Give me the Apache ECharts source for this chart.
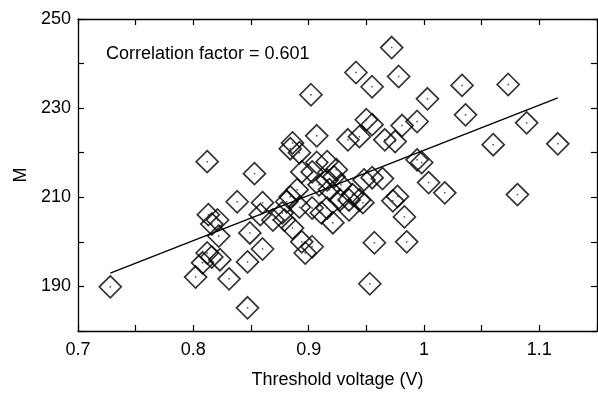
<!DOCTYPE html>
<html>
<head>
<meta charset="utf-8">
<script src="https://cdn.jsdelivr.net/npm/echarts@6/dist/echarts.min.js"></script>
<style>
html,body{margin:0;padding:0;background:#fff;}
#c{width:598px;height:394px;}
</style>
</head>
<body>
<div id="c"></div>
<script>
// Threshold voltage (V)
var voltage = [
0.972,0.941,0.978,0.955,0.902,1.003,1.033,1.073,1.036,1.089,
0.994,0.981,0.950,0.955,0.975,0.966,0.934,0.944,0.907,0.886,
0.892,0.884,0.916,0.907,0.903,0.894,0.924,0.916,0.922,0.918,
0.890,0.884,0.938,0.948,0.955,0.935,0.944,0.977,0.973,0.964,
1.004,1.018,1.081,0.983,0.985,0.957,0.953,1.060,1.116,0.994,
0.998,0.853,0.860,0.838,0.812,0.813,0.821,0.816,0.822,0.849,
0.860,0.812,0.816,0.823,0.808,0.847,0.802,0.831,0.847,0.728,
0.897,0.903,0.894,0.886,0.879,0.911,0.916,0.903,0.892,0.881,
0.927,0.921,0.935,0.947,0.858,0.869,0.877,0.909,0.928
];
// M
var mValues = [
243.6,238.0,237.1,234.8,233.0,232.1,235.1,235.3,228.5,226.7,
227.0,226.1,227.4,226.3,222.5,222.9,222.9,223.6,223.8,222.2,
220.0,220.9,218.0,217.8,215.7,215.7,216.2,213.9,214.6,211.7,
211.7,210.1,210.6,213.9,214.4,209.4,209.4,210.2,209.2,214.2,
213.3,211.0,210.6,205.6,200.0,199.8,190.6,221.8,222.0,218.4,
217.8,215.3,208.8,209.0,218.0,206.1,204.9,204.0,201.3,202.0,
198.4,197.5,196.6,196.0,195.3,195.5,192.1,191.7,185.2,189.9,
197.5,198.9,200.0,203.1,204.9,206.5,207.6,207.6,207.8,209.0,
209.4,204.3,207.2,208.8,206.1,204.9,206.5,212.8,212.8
];
// regression line end points
var fitX = [0.728, 1.116];
var fitY = [193.0, 232.3];
// axis ticks
var xMin = 0.7, xMax = 1.15, xStep = 0.05;
var yMin = 180, yMax = 250, yStep = 10;
var corrText = 'Correlation factor = 0.601';

var pts = voltage.map(function(v, i){ return [v, mValues[i]]; });
var fitPts = fitX.map(function(v, i){ return [v, fitY[i]]; });

var FONT = '"Liberation Sans", Arial, Helvetica, sans-serif';
var INK = '#000';

function xLab(v){
  var t = Math.round(v * 100) / 100;
  if (Math.abs(t * 10 - Math.round(t * 10)) > 1e-6) return '';
  return String(parseFloat(t.toFixed(1)));
}
function yLab(v){
  return ((Math.round(v) - 190) % 20 === 0) ? String(Math.round(v)) : '';
}

var axisCommon = {
  axisLine: {show: true, onZero: false, lineStyle: {color: INK, width: 1.3}},
  axisTick: {show: true, inside: true, length: 6, lineStyle: {color: INK, width: 1.2}},
  splitLine: {show: false}
};

var chart = echarts.init(document.getElementById('c'), null, {renderer: 'canvas'});
chart.setOption({
  animation: false,
  backgroundColor: '#fff',
  grid: {left: 78, right: 1, top: 19, bottom: 63, containLabel: false, outerBoundsMode: 'none'},
  xAxis: [
    Object.assign({
      type: 'value', min: xMin, max: xMax, interval: xStep, position: 'bottom',
      name: 'Threshold voltage (V)', nameLocation: 'middle', nameGap: 40,
      nameTextStyle: {fontFamily: FONT, fontSize: 18, color: INK},
      axisLabel: {show: true, margin: 10, fontFamily: FONT, fontSize: 18, color: INK, formatter: xLab, showMinLabel: true, showMaxLabel: true}
    }, axisCommon),
    Object.assign({
      type: 'value', min: xMin, max: xMax, interval: xStep, position: 'top',
      axisLabel: {show: false}
    }, axisCommon)
  ],
  yAxis: [
    Object.assign({
      type: 'value', min: yMin, max: yMax, interval: yStep, position: 'left',
      name: 'M', nameLocation: 'middle', nameGap: 46, nameRotate: 90,
      nameTextStyle: {fontFamily: FONT, fontSize: 18, color: INK},
      axisLabel: {show: true, margin: 7, fontFamily: FONT, fontSize: 18, color: INK, formatter: yLab, showMinLabel: true, showMaxLabel: true}
    }, axisCommon),
    Object.assign({
      type: 'value', min: yMin, max: yMax, interval: yStep, position: 'right',
      axisLabel: {show: false}
    }, axisCommon)
  ],
  graphic: [{
    type: 'text', left: 106, top: 45,
    style: {text: corrText, fontFamily: FONT, fontSize: 18, fill: INK}
  }],
  series: [
    {
      type: 'scatter', xAxisIndex: 0, yAxisIndex: 0, data: pts,
      symbol: 'diamond', symbolSize: 22,
      itemStyle: {color: 'rgba(255,255,255,0)', borderColor: INK, borderWidth: 1.7},
      z: 3
    },
    {
      type: 'scatter', xAxisIndex: 0, yAxisIndex: 0, data: pts,
      symbol: 'rect', symbolSize: 1.5,
      itemStyle: {color: '#222'}, z: 4
    },
    {
      type: 'line', xAxisIndex: 0, yAxisIndex: 0, data: fitPts,
      showSymbol: false, symbol: 'none',
      lineStyle: {color: INK, width: 1.3}, z: 5
    }
  ]
});
</script>
</body>
</html>
